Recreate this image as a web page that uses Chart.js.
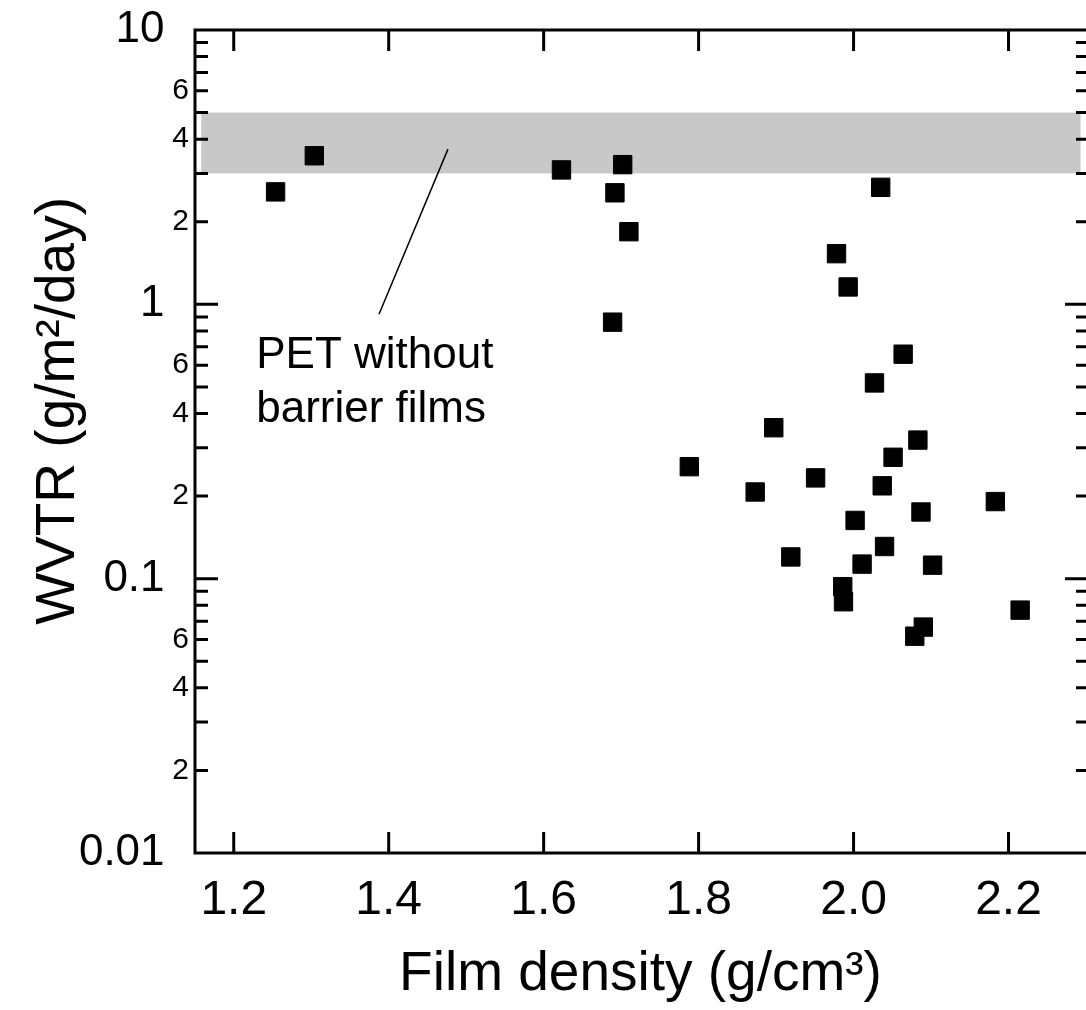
<!DOCTYPE html>
<html>
<head>
<meta charset="utf-8">
<script src="https://cdn.jsdelivr.net/npm/chart.js@4.4.1/dist/chart.umd.min.js"></script>
<style>
  html, body { margin: 0; padding: 0; background: #ffffff; }
  #wrap { width: 1086px; height: 1010px; }
</style>
</head>
<body>
<div id="wrap"><canvas id="c" width="1086" height="1010"></canvas></div>
<script>
// ---- data ----
const density = [1.254, 1.304, 1.623, 1.702, 1.692, 1.710, 1.689, 2.035, 1.978, 1.993,
                 2.064, 2.027, 1.897, 1.788, 1.951, 1.873, 2.083, 2.051, 2.037, 2.183,
                 2.002, 2.087, 2.040, 1.919, 2.011, 2.102, 1.986, 1.987, 2.215, 2.090, 2.079];
const wvtr    = [2.57, 3.48, 3.09, 3.23, 2.55, 1.84, 0.861, 2.67, 1.53, 1.157,
                 0.658, 0.517, 0.355, 0.256, 0.233, 0.207, 0.320, 0.277, 0.218, 0.191,
                 0.163, 0.175, 0.131, 0.120, 0.113, 0.112, 0.0935, 0.0824, 0.0768, 0.0666, 0.0617];

const xTickValues = [1.2, 1.4, 1.6, 1.8, 2.0, 2.2];
const xRange = [1.15, 2.30];
const yRange = [0.01, 10];
const yDecades = [0.01, 0.1, 1, 10];
const yMinorSteps = [2, 3, 4, 5, 6, 7, 8, 9];
const yLabelledSteps = [2, 4, 6];

const petBandX = [1.158, 2.293];
const petBandY = [3, 5];
const leaderX = [1.4765, 1.3875];
const leaderY = [3.68, 0.92];
const noteLines = ['PET without', 'barrier films'];
const noteX = 1.229;
const noteY = [0.585, 0.373];

const xTitle = 'Film density (g/cm\u00B3)';
const yTitle = 'WVTR (g/m\u00B2/day)';

// ---- helpers ----
const FONT = '"Liberation Sans", Arial, Helvetica, sans-serif';
function decadeOf(v) { return Math.floor(Math.log10(v) + 1e-9); }
function stepOf(v) { return Math.round(v / Math.pow(10, decadeOf(v))); }
function isDecade(v) { return stepOf(v) === 1; }

const yTickValues = [];
for (let i = 0; i < yDecades.length - 1; i++) {
  yTickValues.push(yDecades[i]);
  yMinorSteps.forEach(m => yTickValues.push(Number((yDecades[i] * m).toPrecision(6))));
}
yTickValues.push(yDecades[yDecades.length - 1]);

const bandPlugin = {
  id: 'band',
  beforeDatasetsDraw(chart) {
    const { ctx, scales: { x, y } } = chart;
    const x0 = x.getPixelForValue(petBandX[0]), x1 = x.getPixelForValue(petBandX[1]);
    const y0 = y.getPixelForValue(petBandY[1]), y1 = y.getPixelForValue(petBandY[0]);
    ctx.save();
    ctx.fillStyle = '#c8c8c8';
    ctx.fillRect(x0, y0, x1 - x0, y1 - y0);
    ctx.restore();
  }
};

const notePlugin = {
  id: 'note',
  afterDatasetsDraw(chart) {
    const { ctx, scales: { x, y } } = chart;
    ctx.save();
    ctx.fillStyle = '#000';
    ctx.font = '44px ' + FONT;
    ctx.textAlign = 'left';
    ctx.textBaseline = 'alphabetic';
    noteLines.forEach((t, i) => ctx.fillText(t, x.getPixelForValue(noteX), y.getPixelForValue(noteY[i])));
    ctx.restore();
  }
};

const framePlugin = {
  id: 'frame',
  afterDraw(chart) {
    const { ctx, chartArea: a, scales: { x, y } } = chart;
    ctx.save();
    ctx.strokeStyle = '#000';
    ctx.lineWidth = 3;
    ctx.lineCap = 'butt';
    ctx.beginPath();
    ctx.moveTo(a.right + 2, a.top);
    ctx.lineTo(a.left, a.top);
    ctx.lineTo(a.left, a.bottom);
    ctx.lineTo(a.right + 2, a.bottom);
    ctx.stroke();
    ctx.beginPath();
    y.ticks.forEach(t => {
      const py = y.getPixelForValue(t.value);
      if (py <= a.top + 2 || py >= a.bottom - 2) return;
      const major = isDecade(t.value);
      ctx.moveTo(a.left, py); ctx.lineTo(a.left + (major ? 23 : 13), py);
      ctx.moveTo(a.right, py); ctx.lineTo(a.right - (major ? 21 : 10), py);
    });
    x.ticks.forEach(t => {
      const px = x.getPixelForValue(t.value);
      ctx.moveTo(px, a.top); ctx.lineTo(px, a.top + 21);
      ctx.moveTo(px, a.bottom); ctx.lineTo(px, a.bottom - 21);
    });
    ctx.stroke();
    ctx.restore();
  }
};

new Chart(document.getElementById('c'), {
  type: 'scatter',
  data: {
    datasets: [
      {
        label: 'WVTR',
        data: density.map((d, i) => ({ x: d, y: wvtr[i] })),
        pointStyle: 'rect',
        pointRadius: 13,
        pointHoverRadius: 13,
        backgroundColor: '#000',
        borderColor: '#000',
        borderWidth: 1
      },
      {
        type: 'line',
        label: 'leader',
        data: leaderX.map((v, i) => ({ x: v, y: leaderY[i] })),
        borderColor: '#000',
        borderWidth: 1.5,
        pointRadius: 0,
        showLine: true,
        fill: false
      }
    ]
  },
  options: {
    responsive: false,
    animation: false,
    events: [],
    layout: { autoPadding: false, padding: { top: 30, right: 0, bottom: 0, left: 0 } },
    plugins: { legend: { display: false }, tooltip: { enabled: false } },
    scales: {
      x: {
        type: 'linear',
        min: xRange[0],
        max: xRange[1],
        afterBuildTicks(scale) { scale.ticks = xTickValues.map(v => ({ value: v })); },
        afterFit(scale) { scale.height = 157; scale.paddingLeft = 0; scale.paddingRight = 0; },
        grid: { display: false, drawTicks: false },
        border: { display: false },
        ticks: {
          autoSkip: false,
          maxRotation: 0,
          padding: 19,
          color: '#000',
          font: { family: FONT, size: 48 },
          callback: v => Number(v).toFixed(1)
        },
        title: {
          display: true,
          text: xTitle,
          color: '#000',
          font: { family: FONT, size: 55 },
          padding: { top: 0, bottom: 2 }
        }
      },
      y: {
        type: 'logarithmic',
        min: yRange[0],
        max: yRange[1],
        afterBuildTicks(scale) { scale.ticks = yTickValues.map(v => ({ value: v })); },
        afterFit(scale) { scale.width = 195; scale.paddingTop = 0; scale.paddingBottom = 0; },
        grid: { display: false, drawTicks: false },
        border: { display: false },
        ticks: {
          autoSkip: false,
          padding: 6,
          color: '#000',
          font: ctx => ({ family: FONT, size: (ctx.tick && isDecade(ctx.tick.value)) ? 44 : 30 }),
          callback: v => {
            if (isDecade(v)) return String(Number(v.toPrecision(6))) + '  ';
            return yLabelledSteps.includes(stepOf(v)) ? String(stepOf(v)) : '';
          }
        },
        title: {
          display: true,
          text: '    ' + yTitle,
          color: '#000',
          font: { family: FONT, size: 55 },
          padding: { top: 26, bottom: 0 }
        }
      }
    }
  },
  plugins: [bandPlugin, notePlugin, framePlugin]
});
</script>
</body>
</html>
